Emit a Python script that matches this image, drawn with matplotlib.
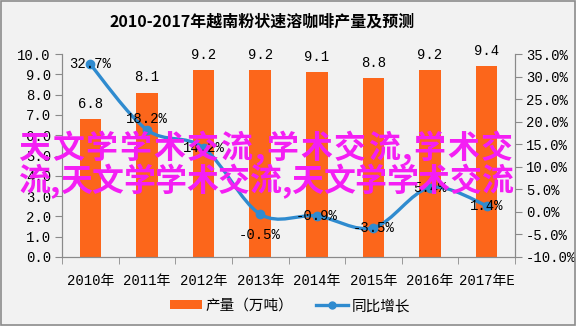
import matplotlib
matplotlib.use("Agg")
import matplotlib.pyplot as plt
from matplotlib.path import Path
from matplotlib.patches import PathPatch, Rectangle
from matplotlib.lines import Line2D
from matplotlib.patches import Patch
from matplotlib.ticker import FormatStrFormatter, FixedLocator

years = ["2010年", "2011年", "2012年", "2013年", "2014年", "2015年", "2016年", "2017年E"]
output = [6.8, 8.1, 9.2, 9.2, 9.1, 8.8, 9.2, 9.4]          # 万吨
growth = [32.7, 18.2, 14.2, -0.5, -0.9, -3.5, 5.4, 1.4]     # %
title = "2010-2017年越南粉状速溶咖啡产量及预测"
legend_labels = ["产量（万吨）", "同比增长"]
overlay_lines = ["天文学学术交流,学术交流,学术交", "流,天文学学术交流,天文学学术交流"]

W, H = 576, 326
BAR = "#fc661b"
LINE = "#2f8bcf"
GRID = "#8a8a8a"
MAGENTA = "#f41ef4"
NUM_FONT = ["Liberation Mono", "Noto Sans CJK SC"]
CJK = ["Noto Sans CJK SC", "DejaVu Sans"]

fig = plt.figure(figsize=(W / 100, H / 100), dpi=100)
fig.patch.set_facecolor("#f2f2f2")
fig.add_artist(Rectangle((0.002, 0.003), 0.996, 0.994, transform=fig.transFigure,
                         fill=False, edgecolor="#8c8c8c", lw=1.2))


def px(x, y):
    return x / W, 1 - y / H


ax = fig.add_axes([62 / W, 1 - 257 / H, (515 - 62) / W, (257 - 54) / H])
ax.set_facecolor("none")
xs = list(range(len(years)))

ax.bar(xs, output, width=0.38, color=BAR, zorder=2)
ax.set_xlim(-0.5, len(years) - 0.5)
ax.set_ylim(0, 10)
ax.set_yticks(range(0, 11))
ax.yaxis.set_major_formatter(FormatStrFormatter("%.1f"))
ax.set_xticks(xs)
ax.set_xticklabels(years)
ax.xaxis.set_minor_locator(FixedLocator([i - 0.5 for i in range(len(years) + 1)]))
ax.tick_params(axis="x", which="major", length=0, pad=12)
ax.tick_params(axis="x", which="minor", length=5, color=GRID, direction="out")
ax.tick_params(axis="y", length=5, color=GRID, direction="out", pad=3)
for s in ("top",):
    ax.spines[s].set_visible(False)
for s in ("left", "bottom", "right"):
    ax.spines[s].set_color(GRID)
for lab in ax.get_xticklabels() + ax.get_yticklabels():
    lab.set_family(NUM_FONT)
    lab.set_fontsize(10)

for x, v in zip(xs, output):
    ax.annotate(f"{v:.1f}", (x, v), xytext=(0, 11), textcoords="offset points",
                ha="center", va="center", family=NUM_FONT, fontsize=10, zorder=3)

ax2 = ax.twinx()
ax2.set_ylim(-10, 35)
ax2.set_yticks(range(-10, 36, 5))
ax2.yaxis.set_major_formatter(FormatStrFormatter("%.1f%%"))
ax2.tick_params(axis="y", length=5, color=GRID, direction="out", pad=3)
ax2.spines["top"].set_visible(False)
for s in ("left", "bottom", "right"):
    ax2.spines[s].set_color(GRID)
for lab in ax2.get_yticklabels():
    lab.set_family(NUM_FONT)
    lab.set_fontsize(10)

# smoothed growth curve (Catmull-Rom segments as cubic Bezier)
pts = list(zip(xs, growth))
verts = [pts[0]]
codes = [Path.MOVETO]
n = len(pts)
for i in range(n - 1):
    p0 = pts[i - 1] if i > 0 else pts[i]
    p1 = pts[i]
    p2 = pts[i + 1]
    p3 = pts[i + 2] if i + 2 < n else pts[i + 1]
    c1 = (p1[0] + (p2[0] - p0[0]) / 6, p1[1] + (p2[1] - p0[1]) / 6)
    c2 = (p2[0] - (p3[0] - p1[0]) / 6, p2[1] - (p3[1] - p1[1]) / 6)
    verts += [c1, c2, p2]
    codes += [Path.CURVE4] * 3
ax2.add_patch(PathPatch(Path(verts, codes), fill=False, edgecolor=LINE, lw=2.4,
                        capstyle="round", joinstyle="round", zorder=4))
ax2.plot(xs, growth, ls="none", marker="o", ms=6, color=LINE, zorder=5)

label_offsets = [(0, 0), (0, 8), (0, 0), (0, -15), (0, 0), (0, 0), (0, 0), (0, 0)]
for x, g, off in zip(xs, growth, label_offsets):
    ax2.annotate(f"{g:.1f}%", (x, g), xytext=off, textcoords="offset points",
                 ha="center", va="center", family=NUM_FONT, fontsize=10, zorder=6)

tx, ty = px(262, 22)
fig.text(tx, ty, title, ha="center", va="center", family=CJK, fontsize=11.5,
         fontweight="bold")

handles = [Patch(facecolor=BAR, edgecolor="none"),
           Line2D([], [], color=LINE, lw=2.4, marker="o", ms=5)]
lx, ly = px(290, 306)
fig.legend(handles, legend_labels, loc="center", bbox_to_anchor=(lx, ly), ncol=2,
           frameon=False, prop={"family": CJK, "size": 10.5}, handlelength=2.2,
           handleheight=0.6, handletextpad=0.2, columnspacing=1.6)

# overlay caption, each line spread evenly between the same left and right edges
renderer = fig.canvas.get_renderer()
x_left, x_right = 18, 513
for line, yc in zip(overlay_lines, (149, 182)):
    texts = []
    widths = []
    for ch in line:
        t = fig.text(0, 0, ch, family=CJK, fontsize=23, fontweight="bold",
                     color=MAGENTA, ha="left", va="center", zorder=20)
        texts.append(t)
        widths.append(t.get_window_extent(renderer).width)
    gap = (x_right - x_left - sum(widths)) / (len(line) - 1)
    cur = x_left
    for t, w in zip(texts, widths):
        t.set_position(px(cur, yc))
        cur += w + gap

fig.savefig("out.png", dpi=100, facecolor=fig.get_facecolor())
